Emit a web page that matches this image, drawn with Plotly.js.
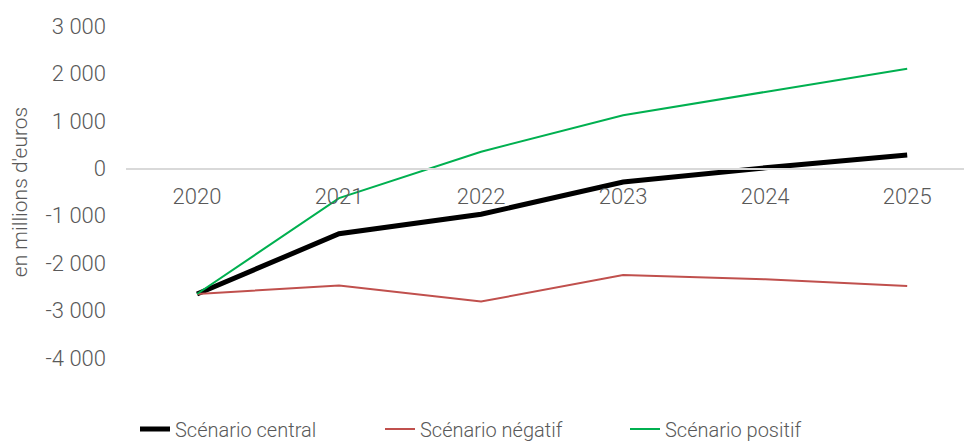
<!DOCTYPE html>
<html>
<head>
<meta charset="utf-8">
<script src="https://cdn.plot.ly/plotly-3.0.1.min.js"></script>
<style>html,body{margin:0;padding:0;background:#fff;}#chart{width:964px;height:443px;}</style>
</head>
<body>
<div id="chart"></div>
<script>
const years = ["2020", "2021", "2022", "2023", "2024", "2025"];
const central = [-2650, -1380, -970, -290, 10, 280];
const negatif = [-2650, -2470, -2810, -2250, -2340, -2480];
const positif = [-2650, -630, 350, 1120, 1610, 2100];
const seriesNames = ["Scénario central", "Scénario négatif", "Scénario positif"];
const yTickVals = [-4000, -3000, -2000, -1000, 0, 1000, 2000, 3000];
const yTickText = ["-4 000", "-3 000", "-2 000", "-1 000", "0", "1 000", "2 000", "3 000"];
const yTitle = "en millions d'euros";

const FONT = "Roboto, 'DejaVu Sans', sans-serif";
const tickFont = {family: FONT, size: 22, color: "#595959", weight: 300};

const traces = [
  {x: years, y: central, name: seriesNames[0], type: "scatter", mode: "lines",
   line: {color: "#000000", width: 5}},
  {x: years, y: negatif, name: seriesNames[1], type: "scatter", mode: "lines",
   line: {color: "#C0504D", width: 2}},
  {x: years, y: positif, name: seriesNames[2], type: "scatter", mode: "lines",
   line: {color: "#00B050", width: 2}}
];

const layout = {
  width: 964, height: 443,
  margin: {l: 126, r: 0, t: 26, b: 85},
  paper_bgcolor: "#ffffff", plot_bgcolor: "#ffffff",
  showlegend: true,
  legend: {orientation: "h", xref: "container", yref: "container",
           x: 135/964, xanchor: "left", y: (443-429)/443, yanchor: "middle",
           font: {family: FONT, size: 20, color: "#595959", weight: 300},
           entrywidth: 200, entrywidthmode: "pixels", traceorder: "normal"},
  xaxis: {type: "category", range: [-0.5, 5.4], anchor: "free", position: 4/7,
          showline: true, linecolor: "#D9D9D9", linewidth: 1.5, showgrid: false,
          ticks: "", tickfont: tickFont, ticklabelstandoff: 8, fixedrange: true},
  yaxis: {range: [-4000, 3000], tickvals: yTickVals, ticktext: yTickText,
          showgrid: false, zeroline: false, showline: false, ticks: "",
          tickfont: tickFont, ticklabelstandoff: 19,
          title: {text: yTitle, font: {family: FONT, size: 21, color: "#595959", weight: 300}, standoff: 12},
          fixedrange: true}
};

Plotly.newPlot("chart", traces, layout, {displayModeBar: false, staticPlot: true});
</script>
</body>
</html>
